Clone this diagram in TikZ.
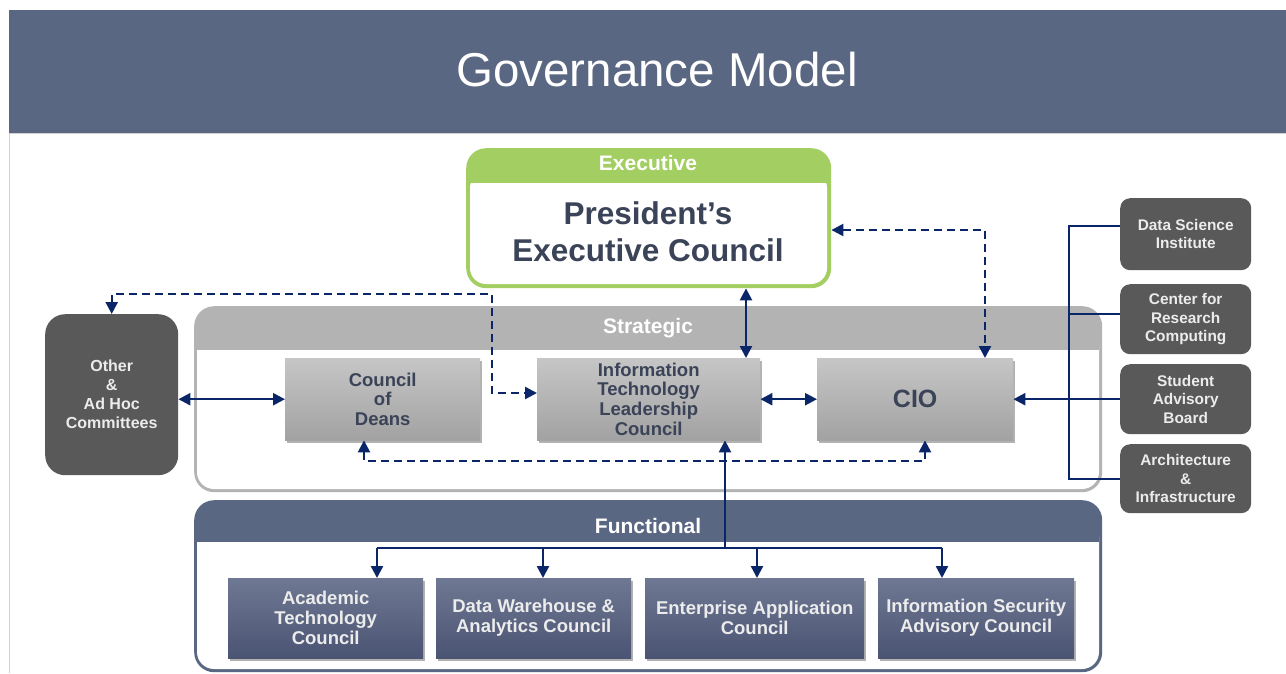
\documentclass[tikz,border=0pt]{standalone}
\usepackage{fontspec}
\setmainfont{Liberation Sans}
\usetikzlibrary{arrows.meta,shadows}
\definecolor{barc}{HTML}{5A6782}
\definecolor{greenc}{HTML}{A3CE62}
\definecolor{dgray}{HTML}{595959}
\definecolor{sgray}{HTML}{B3B3B3}
\definecolor{gtop}{HTML}{C6C6C6}
\definecolor{gbot}{HTML}{A2A2A2}
\definecolor{ftop}{HTML}{6F7892}
\definecolor{fbot}{HTML}{4A5473}
\definecolor{txtc}{HTML}{3A4357}
\definecolor{navyc}{HTML}{0B2668}
\definecolor{lightt}{HTML}{ECECEC}
\begin{document}
\begin{tikzpicture}[x=1pt,y=-1pt,
  navy/.style={draw=navyc, line width=2.4pt},
  tip/.tip={Triangle[length=12pt,width=12pt]},
  arr/.style={navy, -tip},
  darr/.style={navy, tip-tip},
  dsh/.style={dash pattern=on 8pt off 5pt},
  shad/.style={drop shadow={shadow xshift=1.5pt, shadow yshift=-2.5pt, opacity=0.3, fill=black}},
  gbox/.style={rectangle, anchor=north west, inner sep=0pt, top color=gtop, bottom color=gbot, shad,
    text=txtc, font=\bfseries\fontsize{18.5}{19.7}\selectfont, align=center},
  fbox/.style={rectangle, anchor=north west, inner sep=0pt, top color=ftop, bottom color=fbot, shad,
    text=lightt, font=\bfseries\fontsize{18.5}{20}\selectfont, align=center, minimum height=80pt},
  rbox/.style={rectangle, rounded corners=10pt, anchor=north west, inner sep=0pt, fill=dgray,
    text=lightt, font=\bfseries\fontsize{15.4}{18.5}\selectfont, align=center, minimum width=131pt},
  head/.style={text=white, font=\bfseries\fontsize{21}{22}\selectfont},
  frame/.style={rectangle, rounded corners=20pt, anchor=north west, inner sep=0pt}
]
\useasboundingbox (0,0) rectangle (1286,673);
\fill[white] (0,0) rectangle (1286,673);
% title
\fill[barc] (9,10) rectangle (1286,133);
\draw[black!18, line width=1pt] (9.5,673) -- (9.5,133.5) -- (1286,133.5);
\node[text=white, font=\fontsize{47.5}{50}\selectfont] (title) at (657,70) {Governance Model};

% executive
\node[frame, fill=greenc, minimum width=365pt, minimum height=140pt] (pec) at (466,148) {};
\fill[white, rounded corners=16pt] (470,172) rectangle (827,284);
\fill[greenc] (470,170) rectangle (827,183);
\node[head] (exechead) at (648,163) {Executive};
\node[text=txtc, font=\bfseries\fontsize{31.5}{37}\selectfont, align=center] (pectext) at (648,232) {President’s\\Executive Council};

% strategic
\node[frame, fill=sgray, minimum width=908pt, minimum height=186pt] (strat) at (194,306) {};
\fill[white, rounded corners=17pt] (197,330) rectangle (1099,489);
\fill[sgray] (197,328) rectangle (1099,350);
\node[head] (strathead) at (648,328) {Strategic};

% functional
\node[frame, fill=barc, minimum width=908pt, minimum height=172pt] (func) at (194,500) {};
\fill[white, rounded corners=17pt] (197,520) rectangle (1099,669);
\fill[barc] (197,518) rectangle (1099,542);
\node[head] (funchead) at (648,526) {Functional};

% other
\node[rectangle, rounded corners=20pt, anchor=north west, inner sep=0pt, fill=dgray, text=lightt,
  font=\bfseries\fontsize{16}{19}\selectfont, align=center, minimum width=133pt, minimum height=161pt]
  (other) at (45,314) {Other\\\&\\Ad Hoc\\Committees};

% strategic nodes
\node[gbox, minimum width=195pt, minimum height=82pt] (deans) at (285,358) {Council\\of\\Deans};
\node[gbox, minimum width=223pt, minimum height=82pt] (itlc) at (537,358) {Information\\Technology\\Leadership\\Council};
\node[gbox, minimum width=196pt, minimum height=82pt, font=\bfseries\fontsize{25}{27}\selectfont] (cio) at (817,358) {CIO};

% right boxes
\node[rbox, minimum height=72pt] (dsi) at (1120,198) {Data Science\\Institute};
\node[rbox, minimum height=70pt] (crc) at (1120,284) {Center for\\Research\\Computing};
\node[rbox, minimum height=70pt] (sab) at (1120,364) {Student\\Advisory\\Board};
\node[rbox, minimum height=69pt] (arch) at (1120,444) {Architecture\\\&\\Infrastructure};

% functional nodes
\node[fbox, minimum width=195pt] (atc) at (228,578) {Academic\\Technology\\Council};
\node[fbox, minimum width=195pt] (dwa) at (436,578) {Data Warehouse \&\\Analytics Council};
\node[fbox, minimum width=219pt] (eac) at (645,578) {Enterprise Application\\Council};
\node[fbox, minimum width=196pt] (isac) at (878,578) {Information Security\\Advisory Council};

% waypoints
\coordinate (w1) at (492,294);
\coordinate (w2) at (364,461);
\coordinate (bus) at (1069,0);
\coordinate (fb) at (725,548);
\coordinate (fl) at (377,548);
\coordinate (fr) at (942,548);

% connectors
\draw[darr] (other.east |- deans.west) -- (deans.west);
\draw[darr, dsh] (other.north) |- (w1) |- (itlc.west |- 0,393);
\draw[darr] (pec.south -| 746,0) -- (itlc.north -| 746,0);
\draw[darr] (itlc.east) -- (cio.west);
\draw[darr, dsh] (pec.east |- 0,230) -| (cio.north -| 985,0);
\draw[darr, dsh] (deans.south -| w2) -- (w2) -| (cio.south -| 925,0);

% right bus
\draw[navy] (dsi.west |- 0,226) -- (bus |- 0,226) -- (bus |- arch.west) -- (arch.west);
\draw[navy] (crc.west |- 0,314) -- (bus |- 0,314);
\draw[arr] (sab.west) -- (cio.east |- sab.west);

% functional bus
\draw[arr] (fb) -- (itlc.south -| fb);
\draw[navy] (fl) -- (fr);
\draw[arr] (fl) -- (atc.north -| fl);
\draw[arr] (fl -| 543,0) -- (dwa.north -| 543,0);
\draw[arr] (fl -| 757,0) -- (eac.north -| 757,0);
\draw[arr] (fr) -- (isac.north -| fr);
\end{tikzpicture}
\end{document}
